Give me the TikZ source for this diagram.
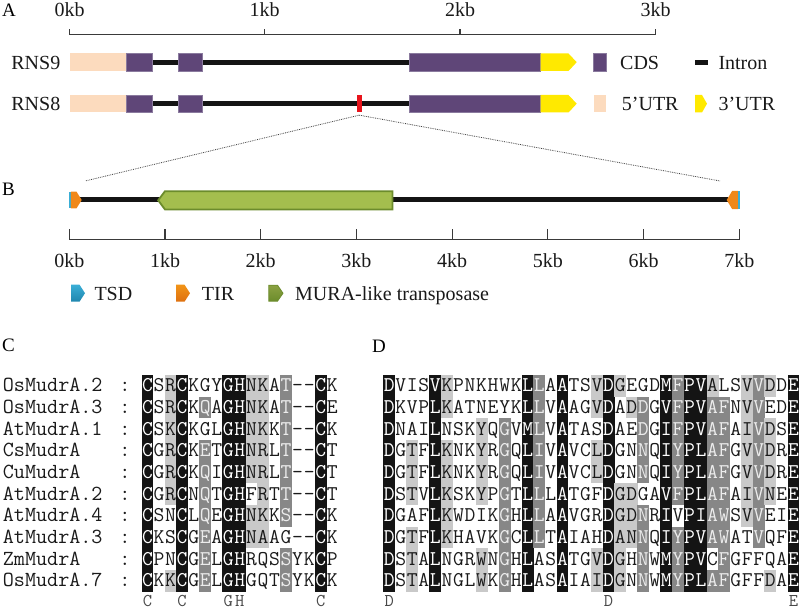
\documentclass[tikz,border=0pt]{standalone}
\usepackage{fontspec}
\setmainfont{Liberation Serif}
\definecolor{peach}{HTML}{FCDBBE}
\definecolor{cdsc}{HTML}{5F4678}
\definecolor{cdsb}{HTML}{8A7A9E}
\definecolor{utry}{HTML}{FFE900}
\definecolor{insred}{HTML}{E8141C}
\definecolor{grfill}{HTML}{A4BE4E}
\definecolor{grline}{HTML}{6C8C2C}
\definecolor{tirc}{HTML}{F0881A}
\definecolor{tird}{HTML}{DE7010}
\definecolor{tsdc}{HTML}{3AAED6}
\definecolor{tsdd}{HTML}{1F86AE}
\definecolor{scalec}{HTML}{3A3A3A}
\definecolor{alnBc}{HTML}{141414}
\definecolor{alnDc}{HTML}{878787}
\definecolor{alnLc}{HTML}{C9C9C9}
\definecolor{alntxt}{HTML}{1A1A1A}
\definecolor{alnlight}{HTML}{ECECEC}
\newcount\alncol
\def\alnw{11.55}
\def\alnh{21.67}
\def\alnbase{16.8}
\def\alnrow#1#2#3#4#5{%
  \def\alnid{#1}\def\alnx{#2}\def\alntop{#3}\alncol=0
  \alnloop#4\relax#5\relax}
\def\alnloop#1#2\relax#3#4\relax{%
  \alncell{#1}{#3}%
  \advance\alncol by 1
  \ifx\relax#2\relax\else\alnloop#2\relax#4\relax\fi}
\def\alncell#1#2{%
  \pgfmathsetmacro\cx{\alnx+\the\alncol*\alnw}%
  \def\tc{alntxt}%
  \if#2B\fill[alnBc] (\cx-0.15,\alntop-0.15) rectangle ++(\alnw+0.3,\alnh+0.3);\def\tc{white}\fi
  \if#2D\fill[alnDc] (\cx-0.15,\alntop-0.15) rectangle ++(\alnw+0.3,\alnh+0.3);\def\tc{alnlight}\fi
  \if#2L\fill[alnLc] (\cx-0.15,\alntop-0.15) rectangle ++(\alnw+0.3,\alnh+0.3);\fi
  \node[alnchar,text=\tc] (\alnid-\the\alncol) at (\cx+\alnw/2,\alntop+\alnbase) {#1};}
\begin{document}
\begin{tikzpicture}[x=1bp,y=-1bp,
  lbl/.style={font=\fontsize{20bp}{24bp}\selectfont,inner sep=0,text=black!90},
  panel/.style={font=\fontsize{19bp}{22bp}\selectfont,inner sep=0,anchor=base west},
  alnchar/.style={font=\ttfamily\fontsize{21bp}{23bp}\selectfont,inner sep=0,anchor=base},
  consstyle/.style={font=\ttfamily\fontsize{18bp}{20bp}\selectfont,inner sep=0,anchor=base,text=alntxt!80},
  namestyle/.style={font=\ttfamily\fontsize{21.5bp}{23bp}\selectfont,inner sep=0,text=alntxt},
  scaleline/.style={draw=scalec,line width=1.1bp},
  intron/.style={draw=black!92,line width=5bp},
  dotline/.style={draw=black!75,line width=0.8bp,densely dotted},
  cdsbox/.style={fill=cdsc,draw=cdsb,line width=0.5bp},
]
\useasboundingbox (0,0) rectangle (800,610);
% ---------- panel labels
\node[panel] (pA) at (2,16.5) {A};
\node[panel] (pB) at (2,196) {B};
\node[panel] (pC) at (2,351) {C};
\node[panel] (pD) at (372,352) {D};
% ---------- panel A scale
\draw[scaleline] (69.5,34.3) -- (655.7,34.3);
\foreach \xx/\tt [count=\i] in {69.5/0kb,264.7/1kb,460/2kb,655.7/3kb}{
  \draw[scaleline] (\xx,34.8) -- (\xx,29);
  \node[lbl,anchor=base] (ta\i) at (\xx,16.5) {\tt};
}
% ---------- genes
\foreach \yc/\yt/\yb in {62.2/53.5/71,103.7/95/112.5}{
  \draw[intron] (126.7,\yc) -- (409.3,\yc);
  \fill[peach] (69.5,\yt) rectangle (126.7,\yb);
  \path[cdsbox] (126.7,\yt) rectangle (152.7,\yb);
  \path[cdsbox] (178,\yt) rectangle (202,\yb);
  \path[cdsbox] (409.3,\yt) rectangle (540.7,\yb);
  \fill[utry] (540.7,\yt) -- (568.5,\yt) -- (576.7,\yc) -- (568.5,\yb) -- (540.7,\yb) -- cycle;
}
\node[lbl,anchor=base east] (rns9) at (60.5,69.5) {RNS9};
\node[lbl,anchor=base east] (rns8) at (60.5,110.8) {RNS8};
\node[fill=insred,inner sep=0,minimum width=5bp,minimum height=17.5bp] (ins) at (359.2,103.7) {};
% legend A
\path[cdsbox] (593.5,53.5) rectangle (606.2,71);
\node[lbl,anchor=base west] (lcds) at (620,69.5) {CDS};
\draw[intron] (695,62.2) -- (707.5,62.2);
\node[lbl,anchor=base west] (lint) at (718.3,69.5) {Intron};
\fill[peach] (593.5,95) rectangle (606.2,112.5);
\node[lbl,anchor=base west] (l5) at (621.7,110.8) {5’UTR};
\fill[utry] (695,95) -- (702,95) -- (707,103.7) -- (702,112.5) -- (695,112.5) -- cycle;
\node[lbl,anchor=base west] (l3) at (718.3,110.8) {3’UTR};
% ---------- dotted zoom lines
\coordinate (dl) at (85,181);
\coordinate (dr) at (720,181);
\draw[dotline] (ins.south) ++(0,2.5) -- (dl);
\draw[dotline] (ins.south) ++(0,2.5) -- (dr);
% ---------- panel B element
\draw[intron] (75,200) -- (728,200);
\fill[tsdc] (69.3,191.7) rectangle (70.9,208.3);
\fill[tirc] (70.8,191.7) -- (76.5,191.7) -- (81.7,200) -- (76.5,208.3) -- (70.8,208.3) -- cycle;
\fill[tirc] (738,190.9) -- (732.2,190.9) -- (726.7,200) -- (732.2,209.1) -- (738,209.1) -- cycle;
\fill[tsdc] (737.9,190.9) rectangle (739.5,209.1);
\filldraw[fill=grfill,draw=grline,line width=1.8bp] (392.5,191.2) -- (165,191.2) -- (158.2,200.3) -- (165,209.5) -- (392.5,209.5) -- cycle;
% scale B
\draw[scaleline] (69.3,239.3) -- (739.3,239.3);
\foreach \k in {0,...,7}{
  \pgfmathsetmacro\xx{69.3+\k*95.71}
  \draw[scaleline] (\xx,239.8) -- (\xx,229.3);
  \node[lbl,anchor=base] (tb\k) at (\xx,267.5) {\k kb};
}
% legend B
\path[top color=tsdc,bottom color=tsdd] (71,284.7) -- (79.5,284.7) -- (85,293.2) -- (79.5,301.7) -- (71,301.7) -- cycle;
\node[lbl,anchor=base west] (ltsd) at (94.3,300.5) {TSD};
\path[top color=tirc!90!yellow,bottom color=tird] (176,284.7) -- (184.5,284.7) -- (190,293.2) -- (184.5,301.7) -- (176,301.7) -- cycle;
\node[lbl,anchor=base west] (ltir) at (201.7,300.5) {TIR};
\path[top color=grfill!85!black,bottom color=grline,draw=grline,line width=0.8bp] (268.8,285.2) -- (277.5,285.2) -- (283,293.2) -- (277.5,301.2) -- (268.8,301.2) -- cycle;
\node[lbl,anchor=base west] (lmura) at (295,300.5) {MURA-like transposase};
% ---------- panel C names
\foreach \nm [count=\r] in {OsMudrA.2,OsMudrA.3,AtMudrA.1,CsMudrA,CuMudrA,AtMudrA.2,AtMudrA.4,AtMudrA.3,ZmMudrA,OsMudrA.7}{
  \pgfmathsetmacro\yy{375+(\r-1)*\alnh+\alnbase}
  \node[namestyle,anchor=base west] (nm\r) at (2.7,\yy) {\nm};
  \node[namestyle,anchor=base] (col\r) at (125,\yy) {:};
}
% ---------- panel C alignment
\alnrow{c1}{141.7}{375}{CSRCKGYGHNKAT--CK}{B.LB...BBLL.D..B.}
\alnrow{c2}{141.7}{396.67}{CSRCKQAGHNKAT--CE}{B.LB.D.BBLL.D..B.}
\alnrow{c3}{141.7}{418.33}{CSKCKGLGHNKKT--CK}{B.LB...BBLL.D..B.}
\alnrow{c4}{141.7}{440}{CGRCKETGHNRLT--CT}{B.LB.D.BBLL.D..B.}
\alnrow{c5}{141.7}{461.67}{CGRCKQIGHNRLT--CT}{B.LB.D.BBLL.D..B.}
\alnrow{c6}{141.7}{483.33}{CGRCNQTGHFRTT--CT}{B.LB.D.BB.L.D..B.}
\alnrow{c7}{141.7}{505}{CSNCLQEGHNKKS--CK}{B..B.D.BBLL.D..B.}
\alnrow{c8}{141.7}{526.67}{CKSCGEAGHNAAG--CK}{B..B.D.BBLL....B.}
\alnrow{c9}{141.7}{548.33}{CPNCGELGHRQSSYKCP}{B..B.D.BB...D..B.}
\alnrow{c10}{141.7}{570}{CKKCGELGHGQTSYKCK}{B.LB.D.BB...D..B.}
\foreach \cc/\ch in {0/C,3/C,7/G,8/H,15/C}{
  \node[consstyle] (cc\cc) at (141.7+\cc*\alnw+\alnw/2,606.5) {\ch};
}
% ---------- panel D alignment
\alnrow{d1}{383.4}{375}{DVISVKPNKHWKLLAATSVDGEGDMFPVALSVVDDE}{B...BL......BD.B..LBL...BDBBL..LDL.B}
\alnrow{d2}{383.4}{396.67}{DKVPLKATNEYKLLVAAGVDADDGVFPVAFNVVEDE}{B...BL......BD.B..LB.LD.BDBBDD.LD..B}
\alnrow{d3}{383.4}{418.33}{DNAILNSKYQGVMLVATASDAEDGIFPVAFAIVDSE}{B...B...L.D.BD.B...B..D.BDBBDD.LDL.B}
\alnrow{d4}{383.4}{440}{DGTFLKNKYRGQLIVAVCLDGNNQIYPLAFGVVDRE}{B.L.BL..L.D.BD.B..LB..D.BDBBDD.LDL.B}
\alnrow{d5}{383.4}{461.67}{DGTFLKNKYRGQLIVAVCLDGNNQIYPLAFGVVDRE}{B.L.BL..L.D.BD.B..LB..D.BDBBDD.LDL.B}
\alnrow{d6}{383.4}{483.33}{DSTVLKSKYPGTLLLATGFDGDGAVFPLAFAIVNEE}{B.L.BL..L.D.BD.B...BLL..BDBBDD.LDL.B}
\alnrow{d7}{383.4}{505}{DGAFLKWDIKGHLLAAVGRDGDNRIVPIAWSVVEIE}{B...BL....D.BD.B...BLLD.B.BBDD.LD..B}
\alnrow{d8}{383.4}{526.67}{DGTFLKHAVKGCLLTAIAHDANNQIYPVAWATVQFE}{B.L.BL....D.BD.B...BLLD.BDBBDD..D..B}
\alnrow{d9}{383.4}{548.33}{DSTALNGRWNGHLASATGVDGHNWMYPVCFGFFQAE}{B.L.B...L.D.B..B..LBL.D.BDBB.D.....B}
\alnrow{d10}{383.4}{570}{DSTALNGLWKGHLASAIAIDGNNWMYPLAFGFFDAE}{B.L.B...L.D.B..B..LBL.D.BDBBDD...L.B}
\foreach \cc/\ch in {0/D,19/D,35/E}{
  \node[consstyle] (dc\cc) at (383.4+\cc*\alnw+\alnw/2,606.5) {\ch};
}
\end{tikzpicture}
\end{document}
